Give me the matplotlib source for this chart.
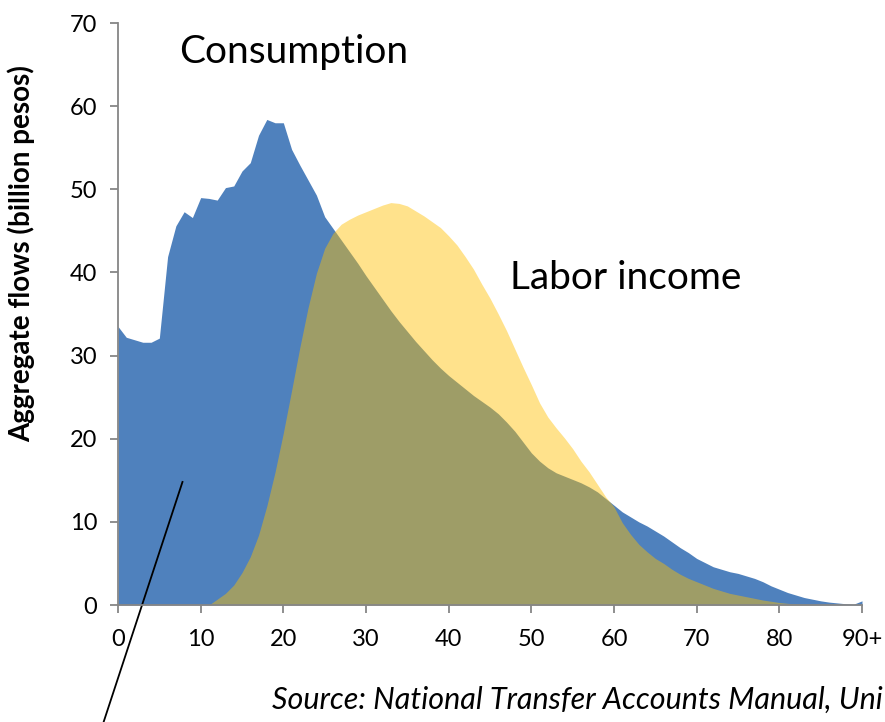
import matplotlib
matplotlib.use("Agg")
import matplotlib.pyplot as plt
import numpy as np

ages = list(range(0, 91))
consumption = [33.5, 32.2, 31.9, 31.6, 31.6, 32.1, 41.9, 45.6, 47.3, 46.6,
               49.0, 48.9, 48.7, 50.2, 50.4, 52.2, 53.2, 56.5, 58.4, 58.0,
               58.0, 54.8, 52.9, 51.1, 49.3, 46.7, 45.3, 43.9, 42.5, 41.1,
               39.6, 38.2, 36.8, 35.4, 34.1, 32.9, 31.7, 30.6, 29.5, 28.5,
               27.6, 26.8, 26.0, 25.2, 24.5, 23.8, 23.0, 22.0, 20.9, 19.6,
               18.3, 17.3, 16.5, 15.9, 15.5, 15.1, 14.7, 14.2, 13.6, 12.8,
               12.0, 11.2, 10.6, 10.0, 9.5, 8.9, 8.3, 7.6, 6.9, 6.3,
               5.6, 5.1, 4.6, 4.3, 4.0, 3.8, 3.5, 3.2, 2.8, 2.3,
               1.9, 1.5, 1.2, 0.9, 0.7, 0.5, 0.35, 0.25, 0.15, 0.1,
               0.5]
labor_income = [0, 0, 0, 0, 0, 0, 0, 0, 0, 0,
                0, 0, 0.7, 1.4, 2.4, 3.9, 5.8, 8.4, 11.9, 16.0,
                20.7, 25.8, 31.0, 35.8, 39.9, 42.9, 44.7, 45.8, 46.4, 46.9,
                47.3, 47.7, 48.1, 48.4, 48.3, 48.0, 47.4, 46.8, 46.1, 45.4,
                44.4, 43.3, 41.9, 40.4, 38.6, 36.9, 35.0, 33.0, 30.8, 28.6,
                26.5, 24.3, 22.6, 21.3, 20.1, 18.8, 17.3, 16.0, 14.5, 13.0,
                11.8, 9.9, 8.5, 7.3, 6.4, 5.6, 5.0, 4.3, 3.7, 3.2,
                2.8, 2.4, 2.0, 1.7, 1.4, 1.2, 1.0, 0.8, 0.6, 0.45,
                0.3, 0.2, 0.12, 0.08, 0.05, 0.03, 0.02, 0.01, 0, 0,
                0]
xtick_pos = [0, 10, 20, 30, 40, 50, 60, 70, 80, 90]
xtick_labels = ["0", "10", "20", "30", "40", "50", "60", "70", "80", "90+"]
ytick_pos = [0, 10, 20, 30, 40, 50, 60, 70]

plt.rcParams['font.family'] = ['Lato', 'DejaVu Sans']

fig = plt.figure(figsize=(8.85, 7.22), dpi=100)
ax = fig.add_axes([118/885, (722-605)/722, (862-118)/885, (605-23)/722])

ax.fill_between(ages, consumption, 0, color="#4F81BD", linewidth=0)
ax.fill_between(ages, labor_income, 0, color="#FFC000", alpha=0.45, linewidth=0)

ax.set_xlim(0, 90)
ax.set_ylim(0, 70)
ax.set_xticks(xtick_pos)
ax.set_xticklabels(xtick_labels)
ax.set_yticks(ytick_pos)
for s in ["top", "right"]:
    ax.spines[s].set_visible(False)
for s in ["left", "bottom"]:
    ax.spines[s].set_color("#868686")
    ax.spines[s].set_linewidth(1.3)
ax.tick_params(axis="both", colors="#868686", width=1.3, length=6, labelcolor="black",
               labelsize=17)
ax.tick_params(axis="x", pad=11)
ax.tick_params(axis="y", pad=9)

ax.set_ylabel("Aggregate flows (billion pesos)", fontsize=20, fontweight="bold")
ax.yaxis.set_label_coords(-0.112, 0.603)

ax.text(7.4, 66.5, "Consumption", fontsize=28, va="center", ha="left")
ax.text(47.4, 39.3, "Labor income", fontsize=28, va="center", ha="left")

ax.plot([7.8, -1.75], [14.8, -14.1], color="black", linewidth=1.3, clip_on=False)

fig.text(272/885, 1 - 700/722, "Source: National Transfer Accounts Manual, Uni",
         fontsize=22, style="italic", va="center", ha="left")

fig.savefig("out.png", dpi=100)
